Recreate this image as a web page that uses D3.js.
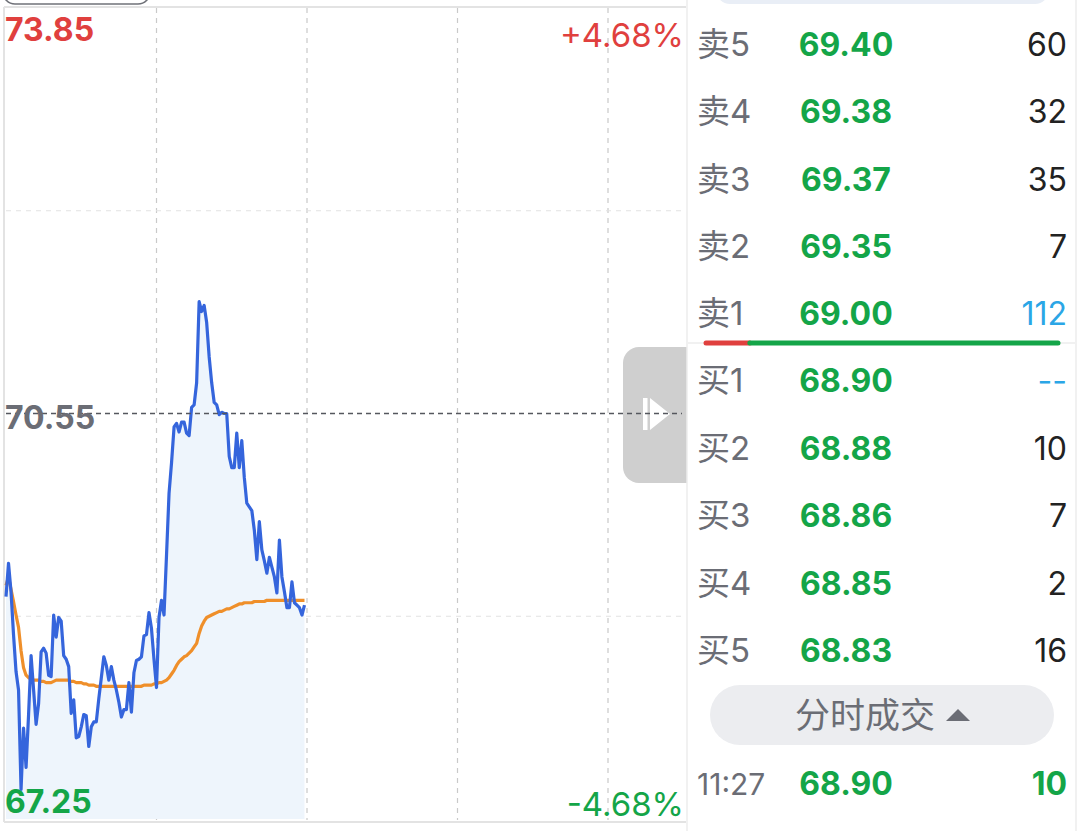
<!DOCTYPE html>
<html><head><meta charset="utf-8">
<script src="https://cdn.jsdelivr.net/npm/d3@7"></script>
<style>
html,body{margin:0;padding:0;background:#fff;}
svg{display:block;}
text{font-family:Inter,"Noto Sans CJK SC",sans-serif;}
</style></head>
<body>
<svg id="c" width="1080" height="831"></svg>
<script>
// ---- data ----
const preClose = 70.55;
const priceMax = 73.85, priceMin = 67.25;
const pctLabels = ["+4.68%", "-4.68%"];
const gridMinutes = [60, 120, 180, 240];
// one value per minute from 9:30
const prices = [
 69.06,69.33,69.10,68.75,68.45,68.30,67.49,67.99,67.67,68.10,
 68.58,68.30,68.02,68.19,68.61,68.64,68.60,68.42,68.41,68.91,
 68.73,68.89,68.86,68.58,68.55,68.49,68.11,68.22,67.91,67.92,
 68.00,68.10,68.09,67.84,68.00,68.04,68.04,68.23,68.40,68.57,
 68.50,68.38,68.49,68.38,68.30,68.20,68.08,68.14,68.14,68.36,
 68.12,68.44,68.54,68.55,68.57,68.74,68.75,68.93,68.80,68.55,
 68.32,68.89,69.03,68.91,69.40,69.90,70.15,70.44,70.47,70.40,
 70.48,70.48,70.39,70.37,70.60,70.62,70.80,71.46,71.38,71.43,
 71.29,71.01,70.80,70.64,70.62,70.54,70.56,70.55,70.55,70.20,
 70.11,70.11,70.39,70.11,70.33,70.03,69.82,69.79,69.76,69.60,
 69.36,69.67,69.44,69.35,69.25,69.38,69.30,69.22,69.09,69.52,
 69.22,69.10,68.97,68.97,69.18,69.01,68.99,68.97,68.91,68.99
];
const avgPrices = [
 69.15,69.22,69.12,69.02,68.91,68.81,68.62,68.48,68.42,68.40,
 68.39,68.38,68.38,68.38,68.37,68.37,68.36,68.36,68.36,68.37,
 68.38,68.38,68.38,68.38,68.38,68.38,68.37,68.37,68.36,68.36,
 68.36,68.35,68.35,68.34,68.34,68.34,68.33,68.33,68.33,68.33,
 68.33,68.33,68.33,68.33,68.33,68.33,68.33,68.33,68.33,68.33,
 68.33,68.33,68.33,68.33,68.33,68.34,68.34,68.34,68.34,68.35,
 68.35,68.36,68.36,68.37,68.38,68.40,68.43,68.46,68.50,68.53,
 68.55,68.57,68.58,68.60,68.62,68.65,68.68,68.76,68.82,68.86,
 68.89,68.90,68.91,68.92,68.93,68.94,68.94,68.95,68.96,68.96,
 68.97,68.98,68.99,69.00,69.00,69.01,69.01,69.01,69.01,69.02,
 69.02,69.02,69.02,69.02,69.03,69.03,69.03,69.03,69.03,69.03,
 69.03,69.03,69.03,69.03,69.03,69.03,69.03,69.03,69.03,69.03
];
const askLabels = ["卖5","卖4","卖3","卖2","卖1"];
const askPrices = [69.40,69.38,69.37,69.35,69.00];
const askVols = [60,32,35,7,112];
const bidLabels = ["买1","买2","买3","买4","买5"];
const bidPrices = [68.90,68.88,68.86,68.85,68.83];
const bidVols = [null,10,7,2,16];
const tradeTime = "11:27", tradePrice = 68.90, tradeVol = 10;
const tradeTitle = "分时成交";

// ---- colors ----
const RED = "#e0403e", GREEN = "#14a548", BLUE = "#3565dc", ORANGE = "#ef8f2a",
      GRAY = "#6b6d75", SKY = "#2ba6e6";

const svg = d3.select("#c");
const x = d3.scaleLinear().domain([0, 240]).range([6, 608]);
const y = d3.scaleLinear().domain([priceMin, priceMax]).range([819, 8]);

// top-left pill outline
svg.append("rect").attr("x",3).attr("y",-30).attr("width",147).attr("height",34)
  .attr("rx",12).attr("fill","none").attr("stroke","#6f7178").attr("stroke-width",1.6);

// chart frame
svg.append("line").attr("x1",4).attr("x2",686).attr("y1",7).attr("y2",7).attr("stroke","#e3e3e3").attr("stroke-width",2);
svg.append("line").attr("x1",4).attr("x2",4).attr("y1",7).attr("y2",822).attr("stroke","#e3e3e3").attr("stroke-width",2);
svg.append("line").attr("x1",4).attr("x2",686).attr("y1",822).attr("y2",822).attr("stroke","#e3e3e3").attr("stroke-width",2);

// vertical grid
svg.selectAll(".vg").data(gridMinutes).join("line")
  .attr("x1",d=>x(d)).attr("x2",d=>x(d)).attr("y1",8).attr("y2",820)
  .attr("stroke","#c9c9c9").attr("stroke-width",1.2).attr("stroke-dasharray","5,5");
// horizontal grid (quarters)
const hq = [priceMax - (priceMax-priceMin)/4, priceMin + (priceMax-priceMin)/4];
svg.selectAll(".hg").data(hq).join("line")
  .attr("x1",6).attr("x2",686).attr("y1",d=>y(d)).attr("y2",d=>y(d))
  .attr("stroke","#e2e2e2").attr("stroke-width",1.2).attr("stroke-dasharray","5,5");

// area + lines
const area = d3.area().x((d,i)=>x(i)).y0(y(priceMin)).y1(d=>y(d));
svg.append("path").datum(prices).attr("d",area).attr("fill","#eef5fc");
const line = d3.line().x((d,i)=>x(i)).y(d=>y(d));
svg.append("path").datum(avgPrices).attr("d",line).attr("fill","none")
  .attr("stroke",ORANGE).attr("stroke-width",3.2).attr("stroke-linejoin","round");
svg.append("path").datum(prices).attr("d",line).attr("fill","none")
  .attr("stroke",BLUE).attr("stroke-width",3.2).attr("stroke-linejoin","round");

// side handle button
svg.append("path").attr("d","M687,347 L639,347 A16,16 0 0 0 623,363 L623,467 A16,16 0 0 0 639,483 L687,483 Z")
  .attr("fill","#cfcfcf");
svg.append("rect").attr("x",643).attr("y",398).attr("width",4.5).attr("height",32).attr("fill","#fff");
svg.append("path").attr("d","M650,398 L670,414 L650,430 Z").attr("fill","#fff");

// pre-close dashed line
svg.append("line").attr("x1",6).attr("x2",682).attr("y1",y(preClose)).attr("y2",y(preClose))
  .attr("stroke","#55575e").attr("stroke-width",1.3).attr("stroke-dasharray","5,4");

// price labels
const lab = (t,xx,yy,c,anchor,w,fs)=>svg.append("text").text(t).attr("x",xx).attr("y",yy)
  .attr("fill",c).attr("text-anchor",anchor).attr("font-weight",w).attr("font-size",fs);
lab(priceMax.toFixed(2),5,y(priceMax)+33,RED,"start",700,32);
lab(preClose.toFixed(2),5,y(preClose)+15,GRAY,"start",700,32);
lab(priceMin.toFixed(2),5,y(priceMin)-6,GREEN,"start",700,32);
lab(pctLabels[0],684,y(priceMax)+39,RED,"end",400,33);
lab(pctLabels[1],684,y(priceMin)-3,GREEN,"end",400,33);

// ---- right panel ----
svg.append("line").attr("x1",687).attr("x2",687).attr("y1",0).attr("y2",831).attr("stroke","#ececec").attr("stroke-width",1.5);
svg.append("line").attr("x1",1076).attr("x2",1076).attr("y1",0).attr("y2",831).attr("stroke","#ececec").attr("stroke-width",1.5);
svg.append("rect").attr("x",716).attr("y",-30).attr("width",333).attr("height",34).attr("rx",14).attr("fill","#e9eef6");

const rows = askLabels.map((l,i)=>({l,p:askPrices[i],v:askVols[i],vc:i===4?SKY:"#222"}))
  .concat(bidLabels.map((l,i)=>({l,p:bidPrices[i],v:bidVols[i],vc:bidVols[i]==null?SKY:"#222"})));
const ry = d3.scaleLinear().domain([0,4]).range([44,313]);
const ryB = d3.scaleLinear().domain([5,9]).range([380,650]);
const rowY = i => i<5 ? ry(i) : ryB(i);
const g = svg.append("g");
rows.forEach((r,i)=>{
  const yy = rowY(i)+12;
  g.append("text").text(r.l).attr("x",697).attr("y",yy).attr("fill",GRAY).attr("font-size",33);
  g.append("text").text(r.p.toFixed(2)).attr("x",846).attr("y",yy).attr("fill",GREEN)
    .attr("font-size",32).attr("font-weight",700).attr("text-anchor","middle");
  g.append("text").text(r.v==null?"--":r.v).attr("x",1067).attr("y",yy).attr("fill",r.vc)
    .attr("font-size",32).attr("text-anchor","end");
});
// separator + ratio bar
svg.append("line").attr("x1",688).attr("x2",1075).attr("y1",343).attr("y2",343).attr("stroke","#ececec").attr("stroke-width",1.5);
const bidSum = d3.sum(bidVols.map(v=>v||0)), askSum = d3.sum(askVols);
const bx = d3.scaleLinear().domain([0, bidSum+askSum]).range([706,1058]);
svg.append("line").attr("x1",bx(0)).attr("x2",bx(bidSum)).attr("y1",343).attr("y2",343)
  .attr("stroke",RED).attr("stroke-width",5).attr("stroke-linecap","round");
svg.append("line").attr("x1",bx(bidSum)).attr("x2",bx(bidSum+askSum)).attr("y1",343).attr("y2",343)
  .attr("stroke",GREEN).attr("stroke-width",5).attr("stroke-linecap","round");

// 分时成交 pill
svg.append("rect").attr("x",710).attr("y",685).attr("width",344).attr("height",60).attr("rx",30).attr("fill","#ecedf0");
svg.append("text").text(tradeTitle).attr("x",795).attr("y",728).attr("fill",GRAY).attr("font-size",35);
svg.append("path").attr("d","M946,721 L958,709 L970,721 Z").attr("fill",GRAY);

// last trade
svg.append("text").text(tradeTime).attr("x",697).attr("y",795).attr("fill",GRAY).attr("font-size",30);
svg.append("text").text(tradePrice.toFixed(2)).attr("x",846).attr("y",795).attr("fill",GREEN)
  .attr("font-size",32).attr("font-weight",700).attr("text-anchor","middle");
svg.append("text").text(tradeVol).attr("x",1067).attr("y",795).attr("fill",GREEN)
  .attr("font-size",32).attr("font-weight",700).attr("text-anchor","end");
</script>
</body></html>
